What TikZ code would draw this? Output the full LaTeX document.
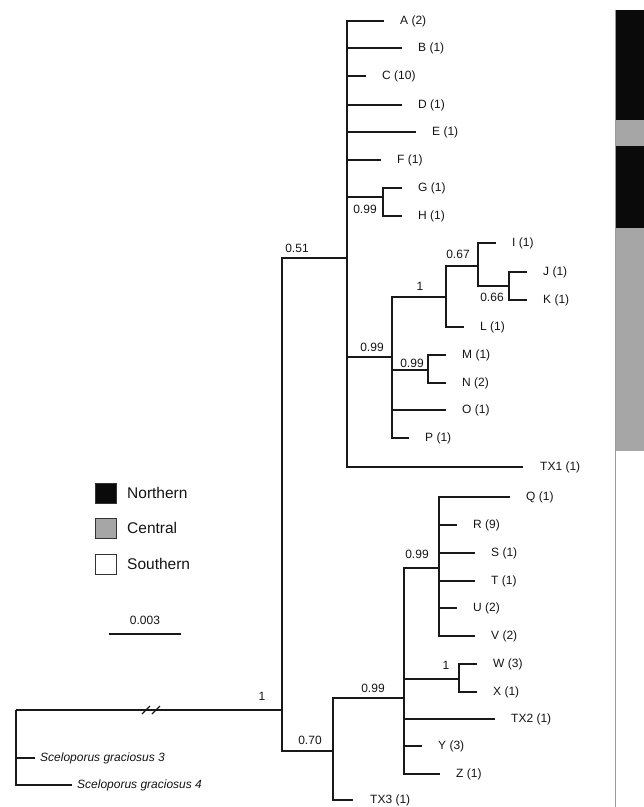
\documentclass[tikz,border=0pt]{standalone}
\usepackage{fontspec}
\setmainfont{Liberation Sans}
\begin{document}
\begin{tikzpicture}[x=1pt,y=-1pt,
 br/.style={line width=1.6pt, draw=black!90},
 tip/.style={anchor=west, inner sep=0pt, text=black!92, font=\fontsize{12}{14}\selectfont},
 sup/.style={inner sep=0pt, text=black!92, font=\fontsize{12}{14}\selectfont},
 leg/.style={anchor=west, inner sep=0pt, text=black!92, font=\fontsize{15.5}{18}\selectfont},
 key/.style={draw=black!80, line width=0.8pt, minimum width=21pt, minimum height=20pt, inner sep=0pt}]
\useasboundingbox (0,0) rectangle (644,807);
% right bar
\fill[black!96] (615,10) rectangle (644,120);
\fill[black!35] (615,120) rectangle (644,146);
\fill[black!96] (615,146) rectangle (644,228);
\fill[black!35] (615,228) rectangle (644,451);
\draw[black!40, line width=1pt] (615,10) -- (615,807);
% internal nodes
\coordinate (root) at (16,710);
\coordinate (ing) at (282,710);
\coordinate (up) at (347,258);
\coordinate (lo) at (333,751);
\coordinate (nGH) at (383,197);
\coordinate (n99) at (392,357);
\coordinate (n1) at (446,297);
\coordinate (n67) at (478,266);
\coordinate (nJK) at (509,286);
\coordinate (nMN) at (428,370);
\coordinate (n99s) at (404,698);
\coordinate (nQV) at (439,568);
\coordinate (nWX) at (459,679);
% tips
\coordinate (tA) at (384,21);
\coordinate (tB) at (402,48);
\coordinate (tC) at (366,76);
\coordinate (tD) at (402,105);
\coordinate (tE) at (416,132);
\coordinate (tF) at (381,160);
\coordinate (tG) at (402,188);
\coordinate (tH) at (402,216);
\coordinate (tI) at (496,243);
\coordinate (tJ) at (527,272);
\coordinate (tK) at (527,300);
\coordinate (tL) at (464,327);
\coordinate (tM) at (446,355);
\coordinate (tN) at (446,383);
\coordinate (tO) at (446,410);
\coordinate (tP) at (409,438);
\coordinate (tTX1) at (523,467);
\coordinate (tQ) at (510,497);
\coordinate (tR) at (457,525);
\coordinate (tS) at (475,553);
\coordinate (tT) at (475,581);
\coordinate (tU) at (457,608);
\coordinate (tV) at (475,636);
\coordinate (tW) at (477,664);
\coordinate (tX) at (477,692);
\coordinate (tTX2) at (495,719);
\coordinate (tY) at (422,746);
\coordinate (tZ) at (440,774);
\coordinate (tTX3) at (353,800);
\coordinate (tS3) at (35,758);
\coordinate (tS4) at (72,785);
% branches
\draw[br] (root) -- (ing);
\draw[br] (root) |- (tS3);
\draw[br] (root) |- (tS4);
\draw[br] (ing) |- (up);
\draw[br] (ing) |- (lo);
\foreach \c in {tA,tB,tC,tD,tE,tF,nGH,n99,tTX1} \draw[br] (up) |- (\c);
\foreach \c in {tG,tH} \draw[br] (nGH) |- (\c);
\foreach \c in {n1,nMN,tO,tP} \draw[br] (n99) |- (\c);
\foreach \c in {n67,tL} \draw[br] (n1) |- (\c);
\foreach \c in {tI,nJK} \draw[br] (n67) |- (\c);
\foreach \c in {tJ,tK} \draw[br] (nJK) |- (\c);
\foreach \c in {tM,tN} \draw[br] (nMN) |- (\c);
\foreach \c in {n99s,tTX3} \draw[br] (lo) |- (\c);
\foreach \c in {nQV,nWX,tTX2,tY,tZ} \draw[br] (n99s) |- (\c);
\foreach \c in {tQ,tR,tS,tT,tU,tV} \draw[br] (nQV) |- (\c);
\foreach \c in {tW,tX} \draw[br] (nWX) |- (\c);
% break mark
\coordinate (bk) at (152,710);
\draw[br, line width=1.2pt] ([xshift=-10pt,yshift=-4pt]bk) -- ([xshift=-2pt,yshift=4pt]bk);
\draw[br, line width=1.2pt] ([xshift=0pt,yshift=-4pt]bk) -- ([xshift=8pt,yshift=4pt]bk);
% tip labels
\foreach \c/\t in {tA/A (2),tB/B (1),tC/C (10),tD/D (1),tE/E (1),tF/F (1),tG/G (1),tH/H (1),tI/I (1),tJ/J (1),tK/K (1),tL/L (1),tM/M (1),tN/N (2),tO/O (1),tP/P (1),tQ/Q (1),tR/R (9),tS/S (1),tT/T (1),tU/U (2),tV/V (2),tW/W (3),tX/X (1),tTX2/TX2 (1),tY/Y (3),tZ/Z (1)}
  \node[tip] (l\c) at ([xshift=16pt]\c) {\t};
\node[tip] (ltTX1) at ([xshift=17pt]tTX1) {TX1 (1)};
\node[tip] (ltTX3) at ([xshift=17pt]tTX3) {TX3 (1)};
\node[tip] (ltS3) at ([xshift=5pt]tS3) {\itshape Sceloporus graciosus 3};
\node[tip] (ltS4) at ([xshift=5pt]tS4) {\itshape Sceloporus graciosus 4};
% support values
\node[sup] (s051) at (297,248) {0.51};
\node[sup] (s1r) at (262,696) {1};
\node[sup] (s070) at (310,740) {0.70};
\node[sup] (s99s) at (373,688) {0.99};
\node[sup] (s99qv) at (417,554) {0.99};
\node[sup] (s1wx) at (446,665) {1};
\node[sup] (s99gh) at (365,209) {0.99};
\node[sup] (s99) at (372,347) {0.99};
\node[sup] (s1) at (420,286) {1};
\node[sup] (s99mn) at (412,363) {0.99};
\node[sup] (s067) at (458,254) {0.67};
\node[sup] (s066) at (492,297) {0.66};
% legend
\node[key, fill=black!96] (kN) at (105.5,493) {};
\node[key, fill=black!35] (kC) at (105.5,528) {};
\node[key, fill=white] (kS) at (105.5,564) {};
\node[leg] (lN) at (127,493) {Northern};
\node[leg] (lC) at (127,528) {Central};
\node[leg] (lS) at (127,564) {Southern};
% scale bar
\coordinate (sb1) at (109,634);
\coordinate (sb2) at (181,634);
\draw[line width=2.2pt, black!90] (sb1) -- (sb2);
\node[sup] (sbl) at (145,620) {0.003};
\end{tikzpicture}
\end{document}
